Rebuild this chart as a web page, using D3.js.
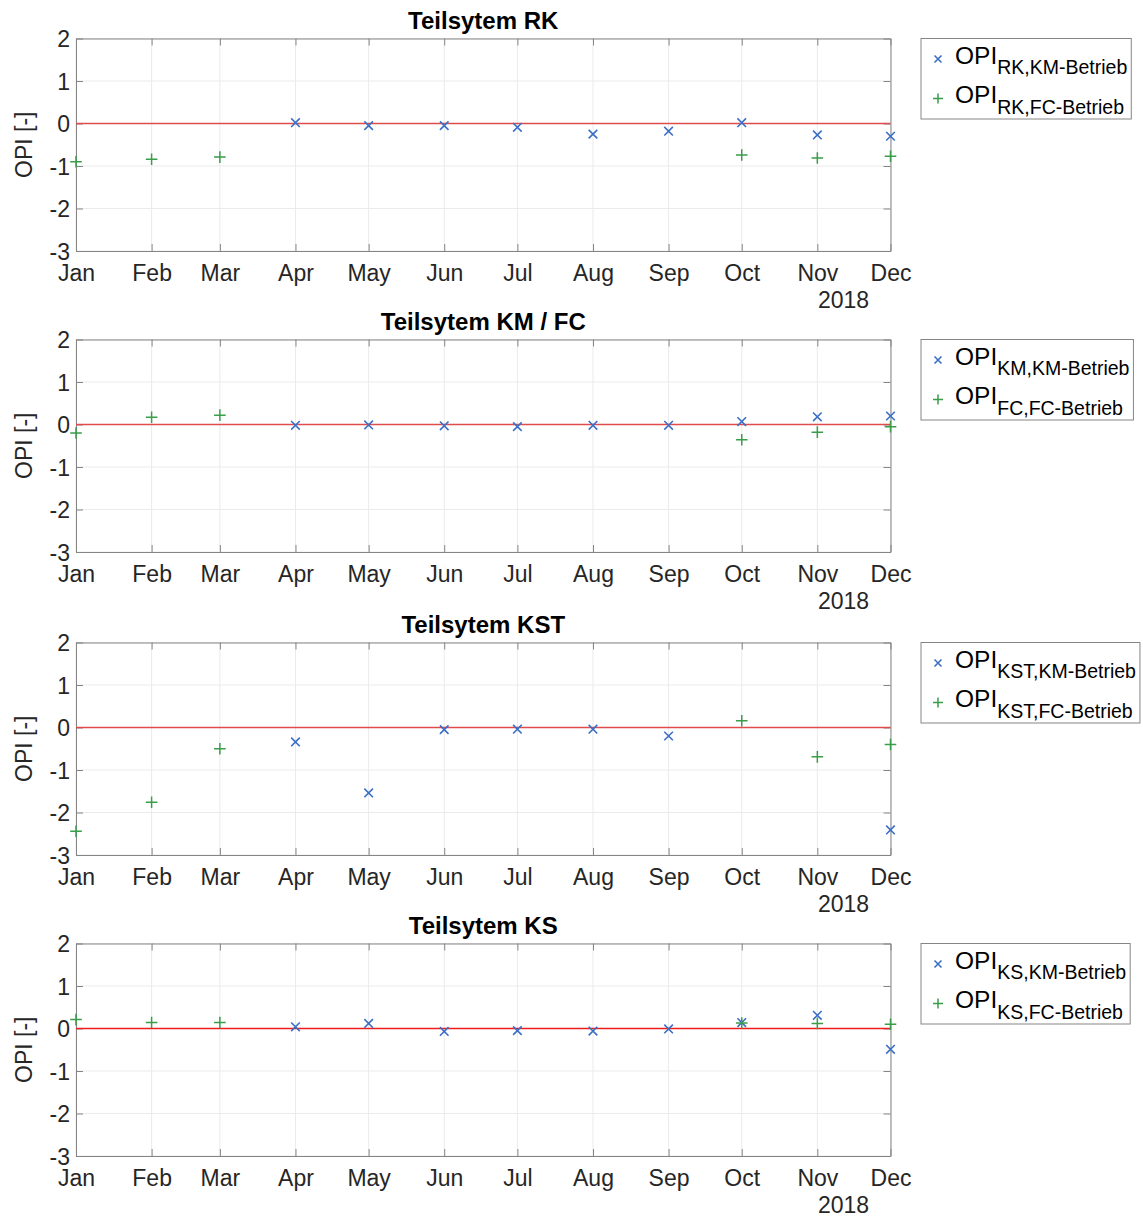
<!DOCTYPE html>
<html>
<head>
<meta charset="utf-8">
<script src="https://cdn.jsdelivr.net/npm/d3@7"></script>
<style>
  body { margin: 0; background: #fff; }
  text { font-family: "Liberation Sans", Arial, Helvetica, sans-serif; }
</style>
</head>
<body>
<div id="chart"></div>
<script>
// OPI per Teilsystem, 2018, monthly values (null = no value that month)
const monthLabels = ["Jan","Feb","Mar","Apr","May","Jun","Jul","Aug","Sep","Oct","Nov","Dec"]
const year = 2018
const yTicks = [2, 1, 0, -1, -2, -3]

const titles = ["Teilsytem RK", "Teilsytem KM / FC", "Teilsytem KST", "Teilsytem KS"]
const legendSubs = [
  ["RK,KM-Betrieb", "RK,FC-Betrieb"],
  ["KM,KM-Betrieb", "FC,FC-Betrieb"],
  ["KST,KM-Betrieb", "KST,FC-Betrieb"],
  ["KS,KM-Betrieb", "KS,FC-Betrieb"]
]

const rkKM  = [null, null, null, 0.02, -0.05, -0.05, -0.09, -0.25, -0.18, 0.02, -0.27, -0.30]
const rkFC  = [-0.90, -0.84, -0.79, null, null, null, null, null, null, -0.74, -0.81, -0.77]
const kmKM  = [null, null, null, -0.02, -0.01, -0.03, -0.05, -0.02, -0.02, 0.07, 0.18, 0.20]
const fcFC  = [-0.20, 0.17, 0.22, null, null, null, null, null, null, -0.36, -0.18, -0.05]
const kstKM = [null, null, null, -0.34, -1.54, -0.05, -0.04, -0.04, -0.20, null, null, -2.41]
const kstFC = [-2.44, -1.76, -0.50, null, null, null, null, null, null, 0.16, -0.69, -0.40]
const ksKM  = [null, null, null, 0.04, 0.12, -0.07, -0.05, -0.06, -0.01, 0.14, 0.31, -0.49]
const ksFC  = [0.21, 0.14, 0.14, null, null, null, null, null, null, 0.13, 0.12, 0.10]

const seriesKM = [rkKM, kmKM, kstKM, ksKM]
const seriesFC = [rkFC, fcFC, kstFC, ksFC]

// layout
let width = 1143, height = 1217
let plotLeft = 76, plotRight = 890.5
let panelTops = [38.5, 339.5, 642.5, 943.5]
let panelH = 212.5
let blue = "#3b6fc6", green = "#3a9d4a"
let zeroColors = ["#e04b4b", "#e04b4b", "#e04b4b", "#f01c1c"]
let axisColor = "#858585", gridColor = "#ebebeb", tickTextColor = "#262626"

let svg = d3.select("#chart").append("svg")
  .attr("width", width).attr("height", height)

let dates = monthLabels.map((m, i) => new Date(Date.UTC(year, i, 1)))

let x = d3.scaleUtc()
  .domain([dates[0], dates[dates.length - 1]])
  .range([plotLeft, plotRight])

function drawX(g, cx, cy, r, color) {
  g.append("path")
    .attr("d", `M${cx - r},${cy - r}L${cx + r},${cy + r}M${cx - r},${cy + r}L${cx + r},${cy - r}`)
    .attr("stroke", color).attr("stroke-width", 1.6).attr("fill", "none")
}
function drawPlus(g, cx, cy, r, color) {
  g.append("path")
    .attr("d", `M${cx - r},${cy}L${cx + r},${cy}M${cx},${cy - r}L${cx},${cy + r}`)
    .attr("stroke", color).attr("stroke-width", 1.5).attr("fill", "none")
}

titles.forEach((title, p) => {
  let top = panelTops[p]
  let y = d3.scaleLinear().domain([-3, 2]).range([top + panelH, top])
  let g = svg.append("g")

  // grid
  g.selectAll(".gx").data(dates).enter().append("line")
    .attr("x1", d => x(d)).attr("x2", d => x(d))
    .attr("y1", top).attr("y2", top + panelH)
    .attr("stroke", gridColor).attr("stroke-width", 1)
  g.selectAll(".gy").data(yTicks).enter().append("line")
    .attr("x1", plotLeft).attr("x2", plotRight)
    .attr("y1", d => y(d)).attr("y2", d => y(d))
    .attr("stroke", gridColor).attr("stroke-width", 1)

  // axes (inward ticks on all four sides)
  let bottom = g.append("g").attr("transform", `translate(0,${top + panelH})`)
    .call(d3.axisBottom(x).tickValues(dates).tickSizeInner(-7).tickSizeOuter(0)
      .tickFormat((d, i) => monthLabels[i]))
  let topAx = g.append("g").attr("transform", `translate(0,${top})`)
    .call(d3.axisTop(x).tickValues(dates).tickSizeInner(-7).tickSizeOuter(0).tickFormat(""))
  let left = g.append("g").attr("transform", `translate(${plotLeft},0)`)
    .call(d3.axisLeft(y).tickValues(yTicks).tickSizeInner(-7).tickSizeOuter(0).tickFormat(d => String(d)))
  let right = g.append("g").attr("transform", `translate(${plotRight},0)`)
    .call(d3.axisRight(y).tickValues(yTicks).tickSizeInner(-7).tickSizeOuter(0).tickFormat(""))

  ;[bottom, topAx, left, right].forEach(a => {
    a.select(".domain").attr("stroke", axisColor).attr("stroke-width", 1)
    a.selectAll(".tick line").attr("stroke", axisColor)
    a.selectAll(".tick text").attr("fill", tickTextColor)
      .style("font-family", '"Liberation Sans", Arial, sans-serif').style("font-size", "23px")
  })
  bottom.selectAll(".tick text").attr("y", 14).attr("dy", "0.71em")
  left.selectAll(".tick text").attr("x", -6).attr("dy", "0.35em")

  // year label
  g.append("text")
    .attr("x", x(dates[dates.length - 1]) - 47).attr("y", top + panelH + 57)
    .attr("text-anchor", "middle").attr("fill", tickTextColor)
    .style("font-size", "23px").text(year)

  // y label
  g.append("text")
    .attr("transform", `translate(32,${top + panelH / 2}) rotate(-90)`)
    .attr("text-anchor", "middle").attr("fill", tickTextColor)
    .style("font-size", "23px").text("OPI [-]")

  // title
  g.append("text")
    .attr("x", (plotLeft + plotRight) / 2).attr("y", top - 10)
    .attr("text-anchor", "middle").attr("fill", "#000")
    .style("font-size", "24px").style("font-weight", "bold").text(title)

  // zero reference line
  g.append("line")
    .attr("x1", plotLeft).attr("x2", plotRight)
    .attr("y1", y(0)).attr("y2", y(0))
    .attr("stroke", zeroColors[p]).attr("stroke-width", 1.6)

  // markers
  let km = seriesKM[p], fc = seriesFC[p]
  km.forEach((v, i) => { if (v !== null) drawX(g, x(dates[i]), y(v), 4.3, blue) })
  fc.forEach((v, i) => { if (v !== null) drawPlus(g, x(dates[i]), y(v), 5.8, green) })

  // legend
  let lg = g.append("g")
  let box = lg.append("rect")
    .attr("x", 921).attr("y", top).attr("height", 80.5)
    .attr("fill", "#fff").attr("stroke", axisColor).attr("stroke-width", 1)
  let maxEnd = 0
  legendSubs[p].forEach((sub, k) => {
    let baseY = top + 25 + k * 39.4
    if (k === 0) drawX(lg, 938, baseY - 4.5, 3.5, blue)
    else drawPlus(lg, 938, baseY - 4.5, 5, green)
    let t = lg.append("text").attr("x", 955).attr("y", baseY).attr("fill", "#000")
      .style("font-size", "24.5px")
    t.append("tspan").text("OPI")
    t.append("tspan").attr("dy", 10.7).style("font-size", "19.5px").text(sub)
    let end = 955 + t.node().getComputedTextLength()
    if (end > maxEnd) maxEnd = end
  })
  box.attr("width", maxEnd + 4 - 921)
})
</script>
</body>
</html>
